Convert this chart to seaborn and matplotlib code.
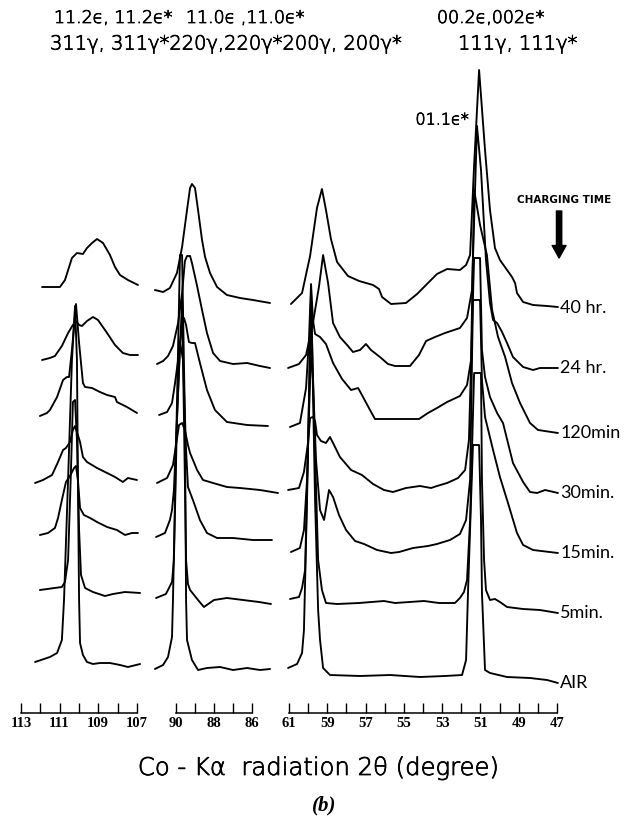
import matplotlib
matplotlib.use("Agg")
import matplotlib.pyplot as plt
import matplotlib.patheffects as pe
import seaborn as sns
import pandas as pd

# ---------------------------------------------------------------------------
# X-ray diffraction traces (Co-Ka) after increasing cathodic charging time.
# Each list holds (2theta in degrees, intensity in arbitrary chart units)
# measured from the stacked recorder traces; intensity is relative to the
# level at which the trace meets its label on the right.
# ---------------------------------------------------------------------------
TRACES = ["AIR", "5min", "15min", "30min", "120min", "24hr", "40hr"]
TRACE_LABELS = ["AIR", "5min.", "15min.", "30min.", "120min", "24 hr.", "40 hr."]
OFFSETS = [30, 100, 160, 220, 280, 345, 405]

# --- 113-107 deg window : 311 gamma / 11.2 epsilon ------------------------
AIR_P1 = [(112.27, 21), (111.50, 26), (111.13, 30), (110.88, 43), (110.77, 83),
          (110.56, 203), (110.36, 323), (110.20, 377), (110.10, 323), (110.05, 203),
          (109.99, 83), (109.94, 40), (109.79, 28), (109.58, 21), (109.27, 19),
          (108.91, 20), (108.39, 20), (107.87, 18), (107.46, 16), (106.83, 19)]
MIN5_P1 = [(112.02, 23), (110.88, 26), (110.72, 31), (110.56, 53), (110.41, 143),
           (110.31, 211), (110.20, 213), (110.10, 173), (109.99, 83), (109.89, 38),
           (109.68, 25), (109.27, 21), (108.65, 17), (108.23, 19), (107.61, 21),
           (106.83, 20)]
MIN15_P1 = [(112.02, 18), (111.60, 20), (111.24, 25), (111.08, 35), (110.88, 53),
            (110.67, 71), (110.46, 77), (110.25, 85), (110.15, 87), (110.05, 73),
            (109.94, 45), (109.74, 38), (109.42, 35), (109.06, 31), (108.54, 26),
            (108.03, 23), (107.61, 18), (107.25, 20), (106.94, 20)]
MIN30_P1 = [(112.27, 10), (111.86, 13), (111.39, 18), (111.08, 31), (110.82, 43),
            (110.67, 45), (110.46, 51), (110.31, 63), (110.20, 67), (110.10, 61),
            (109.94, 51), (109.79, 36), (109.58, 31), (109.06, 25), (108.54, 20),
            (108.13, 16), (107.72, 11), (107.46, 15), (106.99, 13)]
MIN120_P1 = [(112.02, 17), (111.65, 20), (111.50, 23), (111.13, 36), (110.82, 53),
             (110.62, 56), (110.51, 56), (110.36, 83), (110.15, 129), (109.99, 90),
             (109.79, 50), (109.68, 46), (109.32, 45), (108.91, 41), (108.54, 38),
             (108.13, 36), (108.03, 31), (107.51, 26), (106.99, 20)]
HR24_P1 = [(111.91, 8), (111.50, 10), (111.24, 12), (110.88, 22), (110.56, 35),
           (110.31, 43), (110.15, 47), (109.99, 43), (109.84, 42), (109.58, 47),
           (109.27, 51), (109.01, 48), (108.54, 35), (108.13, 23), (107.72, 15),
           (107.35, 13), (106.94, 13)]
HR40_P1 = [(111.91, 21), (110.98, 21), (110.72, 28), (110.36, 50), (110.10, 55),
           (109.79, 54), (109.58, 60), (109.32, 65), (109.06, 69), (108.75, 65),
           (108.39, 53), (108.13, 41), (107.87, 33), (107.46, 28), (106.94, 23)]

# --- 90-86 deg window : 220 gamma / 11.0 epsilon --------------------------
AIR_P2 = [(91.11, 14), (90.68, 18), (90.42, 26), (90.21, 46), (90.16, 83),
          (90.00, 233), (89.79, 428), (89.68, 428), (89.53, 263), (89.47, 83),
          (89.42, 43), (89.16, 23), (88.84, 13), (88.37, 15), (87.68, 16),
          (87.00, 13), (86.26, 15), (85.58, 13), (85.05, 14)]
MIN5_P2 = [(91.05, 15), (90.53, 19), (90.21, 31), (90.11, 53), (89.95, 193),
           (89.68, 313), (89.58, 193), (89.47, 53), (89.37, 29), (89.26, 23),
           (88.84, 13), (88.53, 6), (88.00, 13), (87.32, 15), (86.47, 13),
           (85.63, 11), (85.00, 9)]
MIN15_P2 = [(91.05, 16), (90.58, 20), (90.32, 33), (90.21, 43), (90.11, 63),
            (89.95, 133), (89.79, 211), (89.63, 193), (89.47, 103), (89.37, 66),
            (89.11, 53), (88.74, 33), (88.37, 20), (87.84, 15), (87.00, 15),
            (85.95, 13), (84.95, 13)]
MIN30_P2 = [(91.00, 10), (90.47, 15), (90.16, 28), (90.00, 48), (89.84, 68),
            (89.68, 70), (89.53, 63), (89.37, 48), (89.26, 40), (88.89, 23),
            (88.58, 13), (88.05, 10), (87.32, 6), (86.63, 5), (85.58, 3),
            (84.63, 0)]
MIN120_P2 = [(90.89, 18), (90.47, 21), (90.21, 30), (90.05, 50), (89.89, 73),
             (89.74, 98), (89.58, 115), (89.47, 108), (89.32, 91), (89.16, 90),
             (89.00, 90), (88.74, 70), (88.37, 43), (87.95, 23), (87.32, 11),
             (86.26, 8), (85.16, 7)]
HR24_P2 = [(91.00, 4), (90.68, 7), (90.42, 12), (90.16, 22), (89.89, 45),
           (89.68, 75), (89.53, 107), (89.42, 112), (89.26, 112), (89.16, 105),
           (88.89, 82), (88.63, 58), (88.37, 35), (88.05, 15), (87.68, 7),
           (87.00, 4), (86.26, 5), (85.58, 2), (85.05, 0)]
HR40_P2 = [(91.11, 18), (90.68, 16), (90.32, 20), (89.95, 35), (89.68, 61),
           (89.42, 98), (89.26, 120), (89.16, 124), (89.00, 120), (88.84, 98),
           (88.63, 68), (88.47, 51), (88.21, 35), (87.84, 21), (87.32, 13),
           (86.63, 10), (85.95, 8), (85.05, 5)]

# --- 61-47 deg window : 200 gamma, 111 gamma / 00.2, 01.1 epsilon --------
AIR_P3 = [(61.05, 15), (60.58, 19), (60.32, 30), (60.22, 53), (60.06, 183),
          (59.85, 393), (59.64, 183), (59.48, 73), (59.38, 43), (59.22, 15),
          (58.86, 8), (57.29, 7), (55.72, 8), (54.16, 6), (52.85, 7),
          (51.96, 8), (51.75, 23), (51.65, 90), (51.49, 183), (51.39, 238),
          (51.07, 238), (50.97, 163), (50.92, 90), (50.76, 13), (50.50, 10),
          (49.61, 6), (48.41, 5), (47.52, 3), (46.95, 0)]
MIN5_P3 = [(60.95, 14), (60.48, 16), (60.32, 25), (60.16, 43), (60.01, 163),
           (59.85, 313), (59.69, 193), (59.48, 53), (59.28, 23), (59.07, 10),
           (58.49, 9), (57.34, 10), (56.04, 12), (55.46, 10), (53.95, 12),
           (53.16, 10), (52.33, 10), (52.07, 15), (51.86, 21), (51.70, 33),
           (51.54, 93), (51.33, 240), (50.97, 240), (50.92, 133), (50.81, 53),
           (50.71, 23), (50.50, 13), (50.24, 14), (49.98, 11), (49.61, 6),
           (48.77, 4), (47.89, 3), (46.95, 0)]
MIN15_P3 = [(60.90, 1), (60.43, 5), (60.22, 23), (60.06, 73), (59.90, 173),
            (59.85, 203), (59.75, 173), (59.59, 93), (59.38, 43), (59.17, 33),
            (58.91, 63), (58.70, 56), (58.39, 38), (58.02, 23), (57.55, 12),
            (57.08, 9), (56.40, 3), (55.67, 0), (55.25, 1), (54.52, 5),
            (53.74, 7), (53.27, 9), (52.59, 13), (52.07, 19), (51.75, 33),
            (51.54, 73), (51.39, 253), (51.02, 253), (50.92, 173), (50.76, 136),
            (50.34, 103), (49.98, 76), (49.56, 50), (49.09, 20), (48.77, 8),
            (48.25, 3), (46.95, 0)]
MIN30_P3 = [(61.05, 3), (60.48, 5), (60.22, 21), (60.01, 50), (59.90, 75),
            (59.75, 76), (59.64, 72), (59.54, 58), (59.33, 52), (59.07, 50),
            (58.86, 56), (58.70, 50), (58.34, 36), (57.76, 23), (57.19, 18),
            (56.61, 9), (56.04, 3), (55.57, 1), (54.89, 5), (54.16, 7),
            (53.58, 5), (53.27, 7), (52.74, 10), (52.17, 15), (51.80, 23),
            (51.60, 53), (51.44, 163), (51.33, 235), (51.02, 235), (50.92, 143),
            (50.76, 116), (50.50, 96), (50.13, 80), (49.82, 70), (49.56, 50),
            (49.30, 30), (48.77, 11), (48.41, 1), (48.04, 0), (47.62, 3),
            (46.95, 0)]
MIN120_P3 = [(60.95, 6), (60.43, 10), (60.11, 45), (59.96, 93), (59.85, 149),
             (59.75, 113), (59.64, 99), (59.38, 96), (59.07, 89), (58.70, 70),
             (58.23, 54), (57.76, 43), (57.39, 45), (57.19, 38), (56.77, 23),
             (56.51, 14), (56.04, 14), (55.10, 14), (54.21, 14), (53.74, 20),
             (53.27, 25), (52.74, 31), (52.07, 37), (51.70, 48), (51.49, 73),
             (51.33, 243), (51.02, 208), (50.66, 178), (50.39, 123), (50.08, 96),
             (49.71, 76), (49.35, 50), (48.93, 30), (48.41, 10), (47.99, 3),
             (46.95, 0)]
HR24_P3 = [(61.05, 0), (60.48, 4), (60.11, 13), (59.75, 45), (59.43, 82),
           (59.22, 113), (58.96, 85), (58.70, 45), (58.34, 31), (57.92, 22),
           (57.66, 16), (57.29, 18), (56.98, 24), (56.72, 18), (56.25, 11),
           (55.83, 4), (55.46, 2), (54.68, 2), (54.21, 13), (53.84, 27),
           (53.37, 31), (52.85, 35), (52.07, 40), (51.70, 50), (51.44, 78),
           (51.18, 242), (50.97, 198), (50.71, 108), (50.50, 65), (50.34, 48),
           (50.13, 45), (49.87, 36), (49.61, 25), (49.30, 11), (48.77, 1),
           (48.25, -2), (47.89, 0), (46.95, 0)]
HR40_P3 = [(60.90, 4), (60.32, 15), (59.90, 52), (59.54, 100), (59.28, 119),
           (59.07, 98), (58.81, 69), (58.49, 46), (57.92, 32), (57.34, 27),
           (56.61, 23), (56.30, 19), (56.14, 11), (55.67, 4), (54.89, 5),
           (54.31, 14), (53.74, 25), (53.27, 34), (52.74, 39), (52.07, 38),
           (51.75, 43), (51.54, 53), (51.33, 143), (51.07, 238), (50.76, 158),
           (50.50, 98), (50.24, 60), (49.98, 48), (49.35, 31), (49.19, 25),
           (49.09, 15), (48.77, 6), (48.25, 3), (47.52, 2), (46.95, 1)]

PANEL_TRACES = [
    [AIR_P1, MIN5_P1, MIN15_P1, MIN30_P1, MIN120_P1, HR24_P1, HR40_P1],
    [AIR_P2, MIN5_P2, MIN15_P2, MIN30_P2, MIN120_P2, HR24_P2, HR40_P2],
    [AIR_P3, MIN5_P3, MIN15_P3, MIN30_P3, MIN120_P3, HR24_P3, HR40_P3],
]

# scale bars under each window
SCALE_BOUNDS = [(113, 107), (90, 86), (61, 47)]
SCALE_LABELS = [[113, 111, 109, 107], [90, 88, 86], [61, 59, 57, 55, 53, 51, 49, 47]]
X_LIMITS = [(113.2, 106.7), (91.2, 84.5), (61.2, 46.9)]

# ---------------------------------------------------------------------------
sns.set_style("white")
plt.rcParams["font.family"] = ["DejaVu Sans"]
plt.rcParams["text.color"] = "black"
plt.rcParams["xtick.color"] = "black"
plt.rcParams["axes.labelcolor"] = "black"

# thin lettering, given a touch of ink so it reads solid black
THIN = dict(fontweight="light", color="black",
            path_effects=[pe.withStroke(linewidth=0.55, foreground="black")])

W, H = 634, 823
fig = plt.figure(figsize=(W / 100, H / 100), dpi=100)


def px_axes(left, right, top, bottom):
    return fig.add_axes([left / W, 1 - bottom / H, (right - left) / W, (bottom - top) / H])


AX_TOP, AX_BOTTOM = 40, 713
axes = [px_axes(17.1, 142.6, AX_TOP, AX_BOTTOM),
        px_axes(153.2, 280.5, AX_TOP, AX_BOTTOM),
        px_axes(285.2, 558.9, AX_TOP, AX_BOTTOM)]

for ax, traces, (hi, lo), (b0, b1), labels in zip(axes, PANEL_TRACES, X_LIMITS,
                                                  SCALE_BOUNDS, SCALE_LABELS):
    rows = []
    for name, off, pts in zip(TRACES, OFFSETS, traces):
        for tt, inten in pts:
            rows.append({"trace": name, "two_theta": tt, "y": off + inten})
    df = pd.DataFrame(rows)
    sns.lineplot(data=df, x="two_theta", y="y", units="trace", estimator=None,
                 sort=False, color="black", lw=1.35, ax=ax, legend=False)

    ax.set_xlim(hi, lo)
    ax.set_ylim(0, AX_BOTTOM - AX_TOP)
    ax.set_facecolor("none")
    for side in ("left", "right", "top"):
        ax.spines[side].set_visible(False)
    ax.spines["bottom"].set_bounds(b1, b0)
    ax.spines["bottom"].set_linewidth(1.1)
    ax.spines["bottom"].set_color("black")
    ax.set_yticks([])
    ax.set_xticks(labels)
    ax.set_xticks(list(range(b1, b0 + 1)), minor=True)
    ax.set_xticklabels([str(v) for v in labels], family="Liberation Serif",
                       fontsize=10.5, fontweight="bold", color="black")
    ax.tick_params(axis="x", which="both", direction="in", length=7, width=1.0,
                   color="black", pad=3, bottom=True)
    ax.set_xlabel("")
    ax.set_ylabel("")

ax3 = axes[2]

# charging-time labels at the right end of each trace
for lab, off in zip(TRACE_LABELS, OFFSETS):
    ax3.text(46.82, off, lab, ha="left", va="center", fontsize=13, color="black",
             family=["Liberation Sans Narrow", "Lato", "DejaVu Sans"], clip_on=False)

ax3.text(46.62, 513, "CHARGING TIME", ha="center", va="center", fontsize=7.5,
         fontweight="bold", color="black",
         family=["Liberation Sans Narrow", "DejaVu Sans"])
ax3.annotate("", xy=(46.89, 455), xytext=(46.89, 502), annotation_clip=False,
             arrowprops=dict(arrowstyle="simple,head_length=0.9,head_width=1.0,tail_width=0.38",
                             fc="black", ec="black", shrinkA=0, shrinkB=0))

ax3.text(53.0, 593, "01.1ϵ*", ha="center", va="center", fontsize=11.5, **THIN)

# reflection indices along the top
top_row1 = [(54, "11.2ϵ, 11.2ϵ*"), (186, "11.0ϵ ,11.0ϵ*"), (437, "00.2ϵ,002ϵ*")]
top_row2 = [(50, "311γ, 311γ*220γ,220γ*200γ, 200γ*"), (458, "111γ, 111γ*")]
for x, s in top_row1:
    fig.text(x / W, 1 - 18 / H, s, ha="left", va="center", fontsize=12.5, **THIN)
for x, s in top_row2:
    fig.text(x / W, 1 - 44 / H, s, ha="left", va="center", fontsize=14, **THIN)

fig.text(318 / W, 1 - 768 / H, "Co - Kα  radiation 2θ (degree)", ha="center",
         va="center", fontsize=17.5, **THIN)
fig.text(324 / W, 1 - 805 / H, "(b)", ha="center", va="center", fontsize=15,
         family="Liberation Serif", fontstyle="italic", fontweight="bold",
         color="black")

fig.savefig("out.png", dpi=100, facecolor="white")
